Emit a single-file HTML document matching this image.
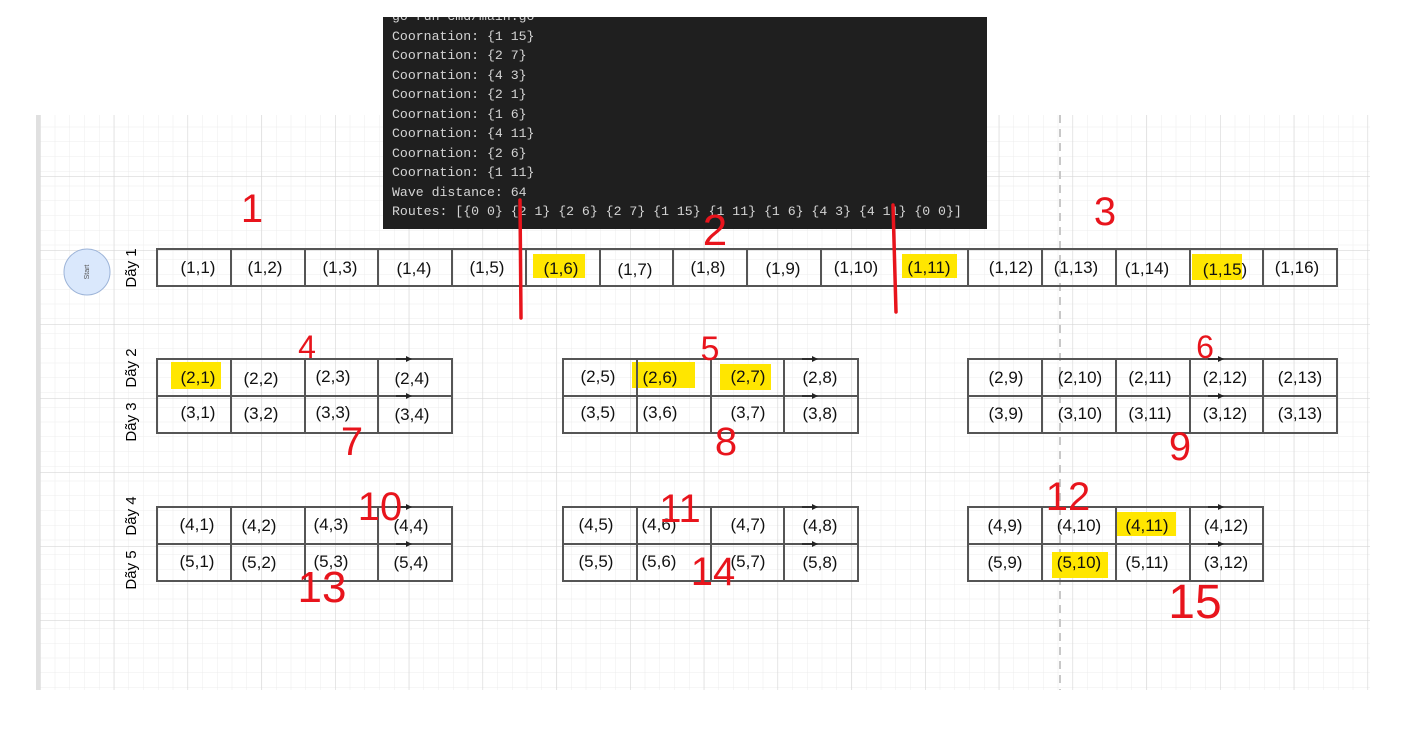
<!DOCTYPE html>
<html><head><meta charset="utf-8"><style>
body{margin:0;width:1415px;height:744px;background:#fff;overflow:hidden;position:relative;font-family:"Liberation Sans",sans-serif}
svg{position:absolute;left:0;top:0}
.term{position:absolute;left:383px;top:17px;width:604px;height:212px;background:#1f1f1f;color:#d4d4d4;font:13.2px/19.5px "Liberation Mono","DejaVu Sans Mono",monospace;padding-left:9px;box-sizing:border-box;overflow:hidden;white-space:pre}
</style></head><body>
<svg width="1415" height="744" viewBox="0 0 1415 744">
<defs>
<pattern id="mn" x="40" y="112" width="14.75" height="14.75" patternUnits="userSpaceOnUse"><path d="M0 0H14.75M0 0V14.75" stroke="#ececec" stroke-width="1" fill="none"/></pattern>
<pattern id="mj" x="40" y="102" width="73.75" height="74" patternUnits="userSpaceOnUse"><path d="M0 0H73.75M0 0V74" stroke="#d6d6d6" stroke-width="1.2" fill="none"/></pattern>
</defs>
<rect x="40" y="115" width="1330" height="575" fill="url(#mn)"/>
<rect x="40" y="115" width="1330" height="575" fill="url(#mj)"/>
<rect x="36" y="115" width="4" height="575" fill="#e0e0e0"/>
<line x1="1060" y1="115" x2="1060" y2="690" stroke="#c8c8c8" stroke-width="2" stroke-dasharray="8,6"/>
<circle cx="87" cy="272" r="23" fill="#dae8fc" stroke="#9db4d8"/>
<text x="87" y="272" font-size="7" fill="#555" text-anchor="middle" transform="rotate(-90 87 272)" dy="2">Start</text>
<g font-size="15" fill="#000" text-anchor="middle">
<text transform="translate(136,268) rotate(-90)">Dãy 1</text>
<text transform="translate(136,368) rotate(-90)">Dãy 2</text>
<text transform="translate(136,422) rotate(-90)">Dãy 3</text>
<text transform="translate(136,516) rotate(-90)">Dãy 4</text>
<text transform="translate(136,570) rotate(-90)">Dãy 5</text>
</g>
<g fill="#ffe600">
<rect x="533" y="254" width="52" height="24"/>
<rect x="902" y="254" width="55" height="24"/>
<rect x="1192" y="254" width="50" height="26"/>
<rect x="171" y="362" width="50" height="27"/>
<rect x="632" y="362" width="63" height="26"/>
<rect x="720" y="364" width="51" height="26"/>
<rect x="1117" y="512" width="59" height="24"/>
<rect x="1052" y="552" width="56" height="26"/>
</g>
<g fill="none" stroke="#555" stroke-width="2">
<rect x="157" y="249" width="1180" height="37"/>
<rect x="157" y="359" width="295" height="74"/><line x1="157" y1="396" x2="452" y2="396"/>
<rect x="563" y="359" width="295" height="74"/><line x1="563" y1="396" x2="858" y2="396"/>
<rect x="968" y="359" width="369" height="74"/><line x1="968" y1="396" x2="1337" y2="396"/>
<rect x="157" y="507" width="295" height="74"/><line x1="157" y1="544" x2="452" y2="544"/>
<rect x="563" y="507" width="295" height="74"/><line x1="563" y1="544" x2="858" y2="544"/>
<rect x="968" y="507" width="295" height="74"/><line x1="968" y1="544" x2="1263" y2="544"/>
<path d="M231 249v37M305 249v37M378 249v37M452 249v37M526 249v37M600 249v37M673 249v37M747 249v37M821 249v37M895 249v37M968 249v37M1042 249v37M1116 249v37M1190 249v37M1263 249v37"/>
<path d="M231 359v74M305 359v74M378 359v74M637 359v74M711 359v74M784 359v74M1042 359v74M1116 359v74M1190 359v74M1263 359v74"/>
<path d="M231 507v74M305 507v74M378 507v74M637 507v74M711 507v74M784 507v74M1042 507v74M1116 507v74M1190 507v74"/>
</g>
<g stroke="#222" stroke-width="1.5" fill="#222">
<path d="M396 359h12M396 396h12M802 359h12M802 396h12M1208 359h12M1208 396h12M396 507h12M396 544h12M802 507h12M802 544h12M1208 507h12M1208 544h12" />
<path d="M406 356l6 3-6 3zM406 393l6 3-6 3zM812 356l6 3-6 3zM812 393l6 3-6 3zM1218 356l6 3-6 3zM1218 393l6 3-6 3zM406 504l6 3-6 3zM406 541l6 3-6 3zM812 504l6 3-6 3zM812 541l6 3-6 3zM1218 504l6 3-6 3zM1218 541l6 3-6 3z" stroke="none"/>
</g>
<g font-size="17" fill="#111" text-anchor="middle">
<text x="198" y="273">(1,1)</text><text x="265" y="273">(1,2)</text><text x="340" y="273">(1,3)</text><text x="414" y="274">(1,4)</text><text x="487" y="273">(1,5)</text><text x="561" y="274">(1,6)</text><text x="635" y="275">(1,7)</text><text x="708" y="273">(1,8)</text><text x="783" y="274">(1,9)</text><text x="856" y="273">(1,10)</text><text x="929" y="273">(1,11)</text><text x="1011" y="273">(1,12)</text><text x="1076" y="273">(1,13)</text><text x="1147" y="274">(1,14)</text><text x="1225" y="275">(1,15)</text><text x="1297" y="273">(1,16)</text>
<text x="198" y="383">(2,1)</text><text x="261" y="384">(2,2)</text><text x="333" y="382">(2,3)</text><text x="412" y="384">(2,4)</text>
<text x="198" y="418">(3,1)</text><text x="261" y="419">(3,2)</text><text x="333" y="418">(3,3)</text><text x="412" y="420">(3,4)</text>
<text x="598" y="382">(2,5)</text><text x="660" y="383">(2,6)</text><text x="748" y="382">(2,7)</text><text x="820" y="383">(2,8)</text>
<text x="598" y="418">(3,5)</text><text x="660" y="418">(3,6)</text><text x="748" y="418">(3,7)</text><text x="820" y="419">(3,8)</text>
<text x="1006" y="383">(2,9)</text><text x="1080" y="383">(2,10)</text><text x="1150" y="383">(2,11)</text><text x="1225" y="383">(2,12)</text><text x="1300" y="383">(2,13)</text>
<text x="1006" y="419">(3,9)</text><text x="1080" y="419">(3,10)</text><text x="1150" y="419">(3,11)</text><text x="1225" y="419">(3,12)</text><text x="1300" y="419">(3,13)</text>
<text x="197" y="530">(4,1)</text><text x="259" y="531">(4,2)</text><text x="331" y="530">(4,3)</text><text x="411" y="531">(4,4)</text>
<text x="197" y="567">(5,1)</text><text x="259" y="568">(5,2)</text><text x="331" y="567">(5,3)</text><text x="411" y="568">(5,4)</text>
<text x="596" y="530">(4,5)</text><text x="659" y="530">(4,6)</text><text x="748" y="530">(4,7)</text><text x="820" y="531">(4,8)</text>
<text x="596" y="567">(5,5)</text><text x="659" y="567">(5,6)</text><text x="748" y="567">(5,7)</text><text x="820" y="568">(5,8)</text>
<text x="1005" y="531">(4,9)</text><text x="1079" y="531">(4,10)</text><text x="1147" y="531">(4,11)</text><text x="1226" y="531">(4,12)</text>
<text x="1005" y="568">(5,9)</text><text x="1079" y="568">(5,10)</text><text x="1147" y="568">(5,11)</text><text x="1226" y="568">(3,12)</text>
</g>
</svg>
<div class="term"><span style="position:relative;top:-10px">go run cmd/main.go</span>
<span style="position:relative;top:-10px">Coornation: {1 15}
Coornation: {2 7}
Coornation: {4 3}
Coornation: {2 1}
Coornation: {1 6}
Coornation: {4 11}
Coornation: {2 6}
Coornation: {1 11}
Wave distance: 64
Routes: [{0 0} {2 1} {2 6} {2 7} {1 15} {1 11} {1 6} {4 3} {4 11} {0 0}]</span></div>
<svg width="1415" height="744" viewBox="0 0 1415 744">
<g stroke="#e8141c" stroke-width="3.5" fill="none" stroke-linecap="round">
<path d="M520 200L521 318M893 205L896 312"/>
</g>
<g fill="#e8141c" font-size="40" font-family="'Liberation Sans',sans-serif" text-anchor="middle">
<text x="252" y="222">1</text>
<text x="715" y="245" font-size="44">2</text>
<text x="1105" y="225">3</text>
<text x="307" y="358" font-size="32">4</text>
<text x="710" y="360" font-size="34">5</text>
<text x="1205" y="358" font-size="32">6</text>
<text x="352" y="455">7</text>
<text x="726" y="455">8</text>
<text x="1180" y="460">9</text>
<text x="380" y="520">10</text>
<text x="680" y="522">11</text>
<text x="1068" y="510">12</text>
<text x="322" y="602" font-size="44">13</text>
<text x="713" y="585">14</text>
<text x="1195" y="618" font-size="48">15</text>
</g>
</svg>
</body></html>
